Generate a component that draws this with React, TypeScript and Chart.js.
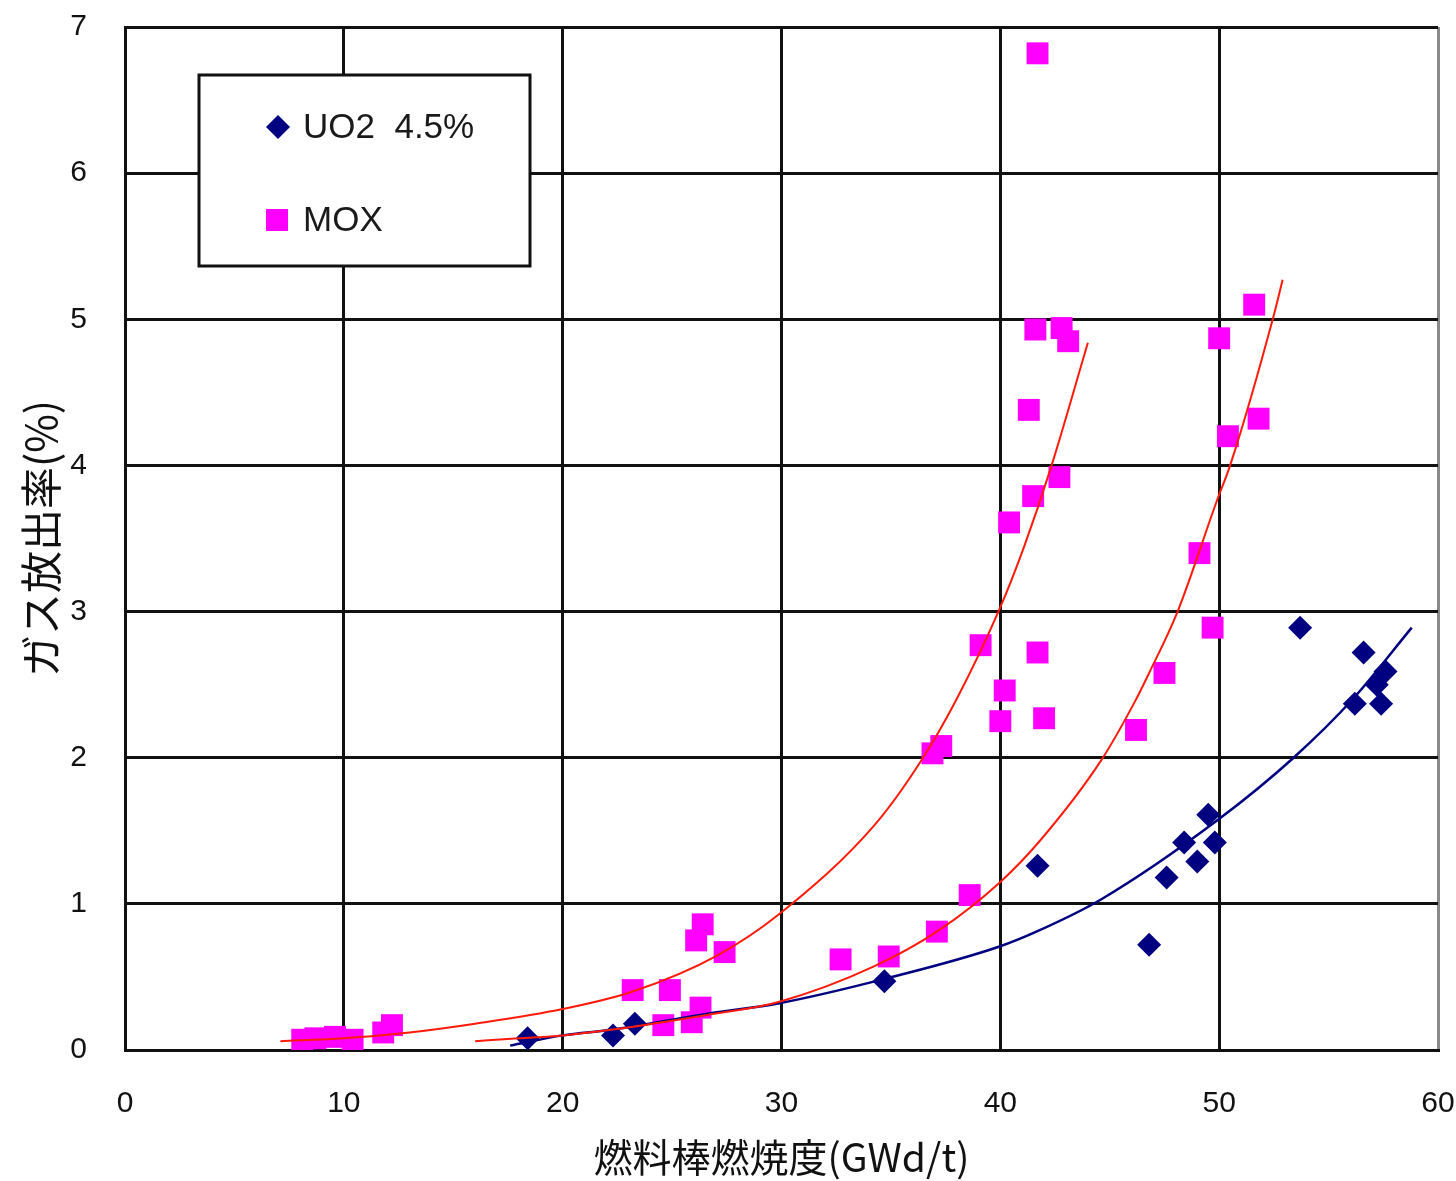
import React, { useEffect, useRef } from "react";
import { Chart, registerables } from "chart.js";
Chart.register(...registerables);

// ---- data ----
const xTickValues = [0, 10, 20, 30, 40, 50, 60];
const yTickValues = [0, 1, 2, 3, 4, 5, 6, 7];
const xTitle = "燃料棒燃焼度(GWd/t)";
const yTitle = "ガス放出率(%)";
const legendLabels = ["UO2  4.5%", "MOX"];

const uo2X = [18.4, 22.3, 23.3, 34.7, 41.7, 46.8, 47.6, 48.4, 49.0, 49.5, 49.8, 53.7, 56.6, 57.6, 57.2, 56.2, 57.4];
const uo2Y = [0.08, 0.10, 0.18, 0.47, 1.26, 0.72, 1.18, 1.42, 1.29, 1.61, 1.42, 2.89, 2.72, 2.59, 2.50, 2.37, 2.37];

const moxX = [
  8.1, 8.7, 9.6, 10.4, 11.8, 12.2,
  23.2, 24.6, 24.9, 25.9, 26.3, 26.1, 26.4, 27.4, 32.7, 34.9, 37.1, 38.6,
  36.9, 37.3, 39.1, 40.0, 40.2, 41.7, 42.0, 40.4, 41.5, 42.7, 41.3, 41.6, 42.8, 43.1, 41.7,
  46.2, 47.5, 49.1, 49.7, 50.4, 51.8, 50.0, 51.6,
];
const moxY = [
  0.07, 0.08, 0.09, 0.07, 0.12, 0.17,
  0.41, 0.17, 0.41, 0.19, 0.29, 0.75, 0.86, 0.67, 0.62, 0.64, 0.81, 1.06,
  2.03, 2.08, 2.77, 2.25, 2.46, 2.72, 2.27, 3.61, 3.79, 3.92, 4.38, 4.93, 4.94, 4.85, 6.82,
  2.19, 2.58, 3.40, 2.89, 4.20, 4.32, 4.87, 5.10,
];

// trend curves
const moxTrend1X = [7.1, 10, 13, 16, 20, 23.2, 27.1, 29.9, 34.2, 36.3, 38.0, 40.0, 41.1, 42.3, 44.0];
const moxTrend1Y = [0.06, 0.08, 0.12, 0.18, 0.28, 0.40, 0.65, 0.93, 1.53, 1.96, 2.40, 3.03, 3.45, 3.98, 4.84];
const moxTrend2X = [16.0, 18.0, 20.0, 22.3, 26.6, 29.9, 34.2, 37.2, 40.0, 41.8, 44.6, 46.1, 46.8, 48.1, 49.9, 50.5, 52.5, 52.9];
const moxTrend2Y = [0.06, 0.08, 0.10, 0.14, 0.24, 0.33, 0.57, 0.82, 1.15, 1.43, 1.98, 2.37, 2.58, 3.00, 3.76, 4.00, 5.03, 5.27];
const uo2TrendX = [17.6, 20.0, 22.3, 26.7, 29.9, 34.8, 40.0, 41.8, 44.6, 49.9, 53.4, 56.1, 58.8];
const uo2TrendY = [0.03, 0.10, 0.14, 0.25, 0.32, 0.49, 0.71, 0.82, 1.03, 1.57, 2.00, 2.40, 2.89];

const NAVY = "#000080";
const MAGENTA = "#ff00ff";
const RED = "#ff1a0a";

const pts = (xs: number[], ys: number[]) => xs.map((x, i) => ({ x, y: ys[i] }));

const legendPlugin = {
  id: "boxLegend",
  afterDatasetsDraw(chart: any) {
    const { ctx, chartArea } = chart;
    const bx = chartArea.left + 74;
    const by = chartArea.top + 48;
    const bw = 331;
    const bh = 191;
    ctx.save();
    ctx.fillStyle = "#ffffff";
    ctx.fillRect(bx, by, bw, bh);
    ctx.lineWidth = 3;
    ctx.strokeStyle = "#111111";
    ctx.strokeRect(bx, by, bw, bh);
    // diamond
    const dx = bx + 79, dy = by + 52, r = 12;
    ctx.fillStyle = NAVY;
    ctx.beginPath();
    ctx.moveTo(dx - r, dy);
    ctx.lineTo(dx, dy - r);
    ctx.lineTo(dx + r, dy);
    ctx.lineTo(dx, dy + r);
    ctx.closePath();
    ctx.fill();
    // square
    const sx = bx + 78, sy = by + 145, s = 11;
    ctx.fillStyle = MAGENTA;
    ctx.fillRect(sx - s, sy - s, 2 * s, 2 * s);
    ctx.fillStyle = "#1a1a1a";
    ctx.font = '35px "Liberation Sans", Arial, sans-serif';
    ctx.textBaseline = "middle";
    ctx.textAlign = "left";
    ctx.fillText(legendLabels[0], bx + 104, dy + 1);
    ctx.fillText(legendLabels[1], bx + 104, sy + 1);
    ctx.restore();
  },
};

export default function App() {
  const ref = useRef<HTMLCanvasElement | null>(null);
  useEffect(() => {
    if (!ref.current) return;
    const tickFont = { family: '"Liberation Sans Narrow", "Liberation Sans", Arial, sans-serif', size: 30 };
    const chart = new Chart(ref.current, {
      type: "scatter",
      data: {
        datasets: [
          {
            label: "trend1",
            data: pts(moxTrend1X, moxTrend1Y),
            showLine: true,
            borderColor: RED,
            borderWidth: 2,
            pointRadius: 0,
            cubicInterpolationMode: "monotone",
            order: 0,
          } as any,
          {
            label: "trend2",
            data: pts(moxTrend2X, moxTrend2Y),
            showLine: true,
            borderColor: RED,
            borderWidth: 2,
            pointRadius: 0,
            cubicInterpolationMode: "monotone",
            order: 0,
          } as any,
          {
            label: "trend3",
            data: pts(uo2TrendX, uo2TrendY),
            showLine: true,
            borderColor: NAVY,
            borderWidth: 2.5,
            pointRadius: 0,
            cubicInterpolationMode: "monotone",
            order: 0,
          } as any,
          {
            label: legendLabels[1],
            data: pts(moxX, moxY),
            pointStyle: "rect",
            pointRadius: 15.5,
            pointBackgroundColor: MAGENTA,
            pointBorderWidth: 0,
            borderWidth: 0,
            order: 1,
          } as any,
          {
            label: legendLabels[0],
            data: pts(uo2X, uo2Y),
            pointStyle: "rectRot",
            pointRadius: 12,
            pointBackgroundColor: NAVY,
            pointBorderWidth: 0,
            borderWidth: 0,
            order: 1,
          } as any,
        ],
      },
      options: {
        responsive: false,
        animation: false,
        devicePixelRatio: 1,
        layout: { padding: { top: 27, right: 18, left: 0, bottom: 0 } },
        plugins: { legend: { display: false }, tooltip: { enabled: false } },
        scales: {
          x: {
            type: "linear",
            min: 0,
            max: 60,
            afterFit: (s: any) => { s.height = 131; },
            afterBuildTicks: (s: any) => { s.ticks = xTickValues.map((v) => ({ value: v })); },
            ticks: { color: "#111", font: tickFont, padding: 0, maxRotation: 0 },
            grid: {
              drawTicks: true,
              tickLength: 36,
              tickColor: "rgba(0,0,0,0)",
              lineWidth: 3,
              color: (c: any) => (c.tick && c.tick.value === 60 ? "#8a8a8a" : "#111"),
            },
            border: { display: true, color: "#111", width: 3 },
            title: {
              display: true,
              text: xTitle,
              color: "#111",
              font: { family: '"Noto Sans CJK JP", sans-serif', size: 39 },
              padding: { top: 0, bottom: 0 },
            },
          },
          y: {
            type: "linear",
            min: 0,
            max: 7,
            afterFit: (s: any) => { s.width = 125; },
            afterBuildTicks: (s: any) => { s.ticks = yTickValues.map((v) => ({ value: v })); },
            ticks: { color: "#111", font: tickFont, padding: 0 },
            grid: {
              drawTicks: true,
              tickLength: 38,
              tickColor: "rgba(0,0,0,0)",
              lineWidth: 3,
              color: "#111",
            },
            border: { display: true, color: "#111", width: 3 },
            title: {
              display: true,
              text: yTitle,
              color: "#111",
              font: { family: '"Noto Sans CJK JP", sans-serif', size: 42 },
              padding: { top: 16, bottom: 0 },
            },
          },
        },
      } as any,
      plugins: [legendPlugin],
    });
    return () => chart.destroy();
  }, []);
  return (
    <div style={{ position: "absolute", left: 0, top: 0, width: 1456, height: 1181, background: "#fff" }}>
      <canvas ref={ref} width={1456} height={1181} style={{ display: "block" }} />
    </div>
  );
}
